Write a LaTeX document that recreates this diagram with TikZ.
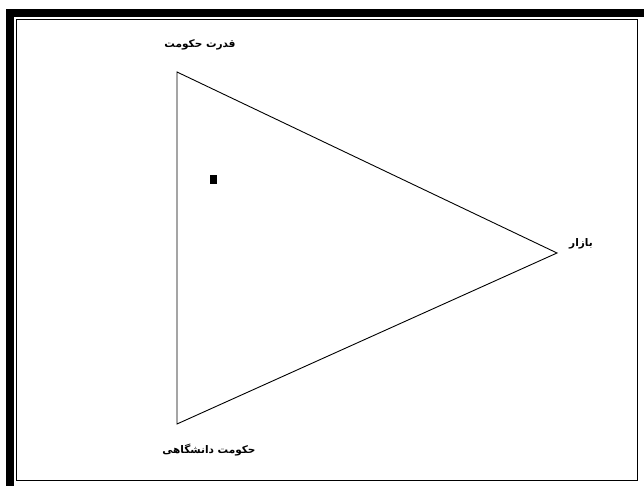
\documentclass[tikz,border=0pt]{standalone}
\usepackage{fontspec}
\TeXXeTstate=1
\newfontfamily\arabicfont[Script=Arabic]{DejaVu Sans}
\usetikzlibrary{positioning}

\tikzset{
  vlabel/.style={font=\arabicfont\bfseries\fontsize{10.5}{12}\selectfont,inner sep=0pt},
  side/.style={draw=black,line width=0.9pt}
}

\begin{document}
\begin{tikzpicture}[x=1pt,y=-1pt]
  \useasboundingbox (0,0) rectangle (644,486);
  \fill[white] (0,0) rectangle (644,486);
  % frame
  \draw[line width=8pt] (10,13) rectangle (648,490);
  \draw[line width=1.4pt] (16.5,19.5) rectangle (637.5,480.5);
  % corners of the triangle
  \coordinate (power) at (177,72);
  \coordinate (market) at (557,253);
  \coordinate (univ) at (177,424);
  \draw[side] (power) -- (market) -- (univ) -- cycle;
  \fill (209.5,175.5) rectangle (216.5,184);
  % labels
  \node[vlabel] (powerlbl) at (200,45) {\beginR قدرت حکومت\endR};
  \node[vlabel] (marketlbl) at (581,244) {\beginR بازار\endR};
  \node[vlabel] (univlbl) at (209,450) {\beginR حکومت دانشگاهی\endR};
\end{tikzpicture}
\end{document}
